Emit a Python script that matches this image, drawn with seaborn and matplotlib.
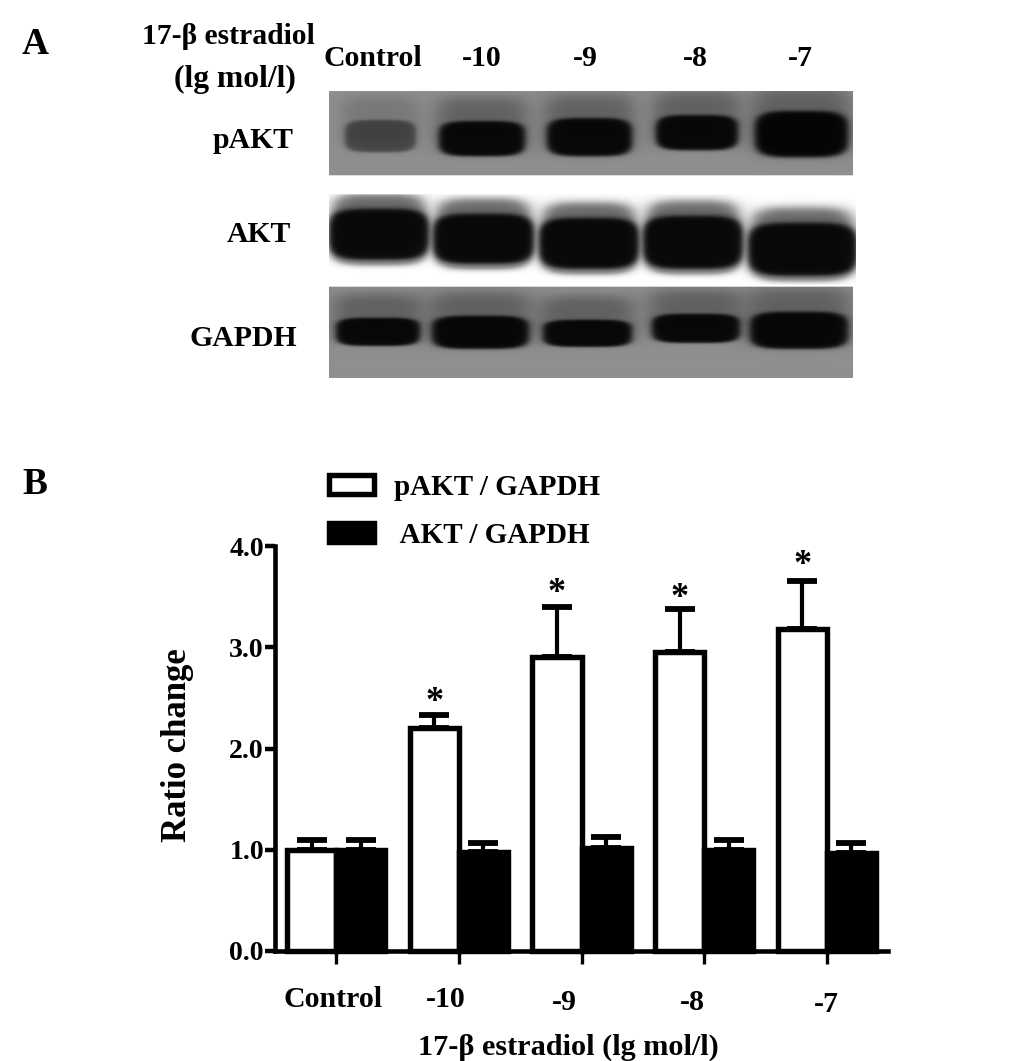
import numpy as np
import pandas as pd
import seaborn as sns
import matplotlib
matplotlib.use("Agg")
import matplotlib.pyplot as plt
from matplotlib.transforms import ScaledTranslation

# ---------- data ----------
categories = ["Control", "-10", "-9", "-8", "-7"]
series_names = ["pAKT / GAPDH", " AKT / GAPDH"]
pakt_values = [1.00, 2.20, 2.90, 2.95, 3.18]
akt_values = [1.00, 0.98, 1.02, 1.00, 0.97]
pakt_err = [0.10, 0.13, 0.50, 0.43, 0.47]
akt_err = [0.10, 0.09, 0.11, 0.10, 0.10]
star_categories = ["-10", "-9", "-8", "-7"]
star_heights = [2.45, 3.53, 3.48, 3.81]

# blot bands: left, right, top, bottom (image pixels), darkness
pakt_bands = [(345, 416, 121, 153, 0.48), (439, 525, 122, 157, 0.97), (547, 632, 119, 157, 0.97),
              (656, 738, 116, 151, 0.97), (755, 848, 112, 158, 1.00)]
akt_bands = [(330, 428, 210, 260, 0.97), (434, 533, 215, 264, 0.98), (540, 638, 219, 269, 0.98),
             (644, 742, 217, 269, 0.98), (749, 856, 224, 276, 0.98)]
gapdh_bands = [(336, 420, 318, 346, 0.97), (432, 529, 316, 349, 0.98), (543, 632, 320, 347, 0.97),
               (652, 740, 314, 343, 0.97), (750, 848, 312, 349, 0.98)]

W, H = 1033, 1061
sns.set_style("white")
plt.rcParams["font.family"] = ["Liberation Serif", "DejaVu Serif"]
plt.rcParams["font.weight"] = "bold"

fig = plt.figure(figsize=(W / 100, H / 100), dpi=100, facecolor="white")
ax = fig.add_axes([275 / W, 1 - 951 / H, (888 - 275) / W, (951 - 546) / H])

df = pd.DataFrame({
    "dose": categories * 2,
    "series": [series_names[0]] * 5 + [series_names[1]] * 5,
    "ratio": pakt_values + akt_values,
})
LW = 3.9
sns.barplot(data=df, x="dose", y="ratio", hue="series", order=categories, hue_order=series_names,
            palette=["white", "black"], edgecolor="black", linewidth=LW, saturation=1,
            errorbar=None, width=0.8, ax=ax, zorder=3, clip_on=False)

# error bars (upper only) at the bar centres
for cont, vals, errs in zip(ax.containers, [pakt_values, akt_values], [pakt_err, akt_err]):
    xs = [p.get_x() + p.get_width() / 2 for p in cont.patches]
    ax.errorbar(xs, vals, yerr=[np.zeros(5), errs], fmt="none", ecolor="black", elinewidth=3,
                capsize=10.5, capthick=4.2, zorder=2, clip_on=False)

# significance stars
pakt_centres = [p.get_x() + p.get_width() / 2 for p in ax.containers[0].patches]
for cat, h in zip(star_categories, star_heights):
    ax.text(pakt_centres[categories.index(cat)], h, "*", ha="center", va="center",
            fontsize=26, fontweight="bold", color="black")

ax.set_xlim(-0.5, 4.5)
ax.set_ylim(0, 4)
ax.set_yticks([0, 1, 2, 3, 4])
ax.set_yticklabels(["0.0", "1.0", "2.0", "3.0", "4.0"], fontsize=20, fontweight="bold", color="black")
ax.set_xticks(range(5))
ax.set_xticklabels(categories, fontsize=21.5, fontweight="bold", color="black")
ax.tick_params(axis="y", left=True, length=7, width=3.2, pad=1, color="black")
ax.tick_params(axis="x", bottom=True, length=9, width=2.4, pad=16, color="black")
# hand-placed x tick labels, as in the source figure (offsets in pixels)
label_dx = [-3, -13, -17, -12, 0]
label_dy = [0, 0, -3, -3, -5]
for lab, dx, dy in zip(ax.get_xticklabels(), label_dx, label_dy):
    lab.set_transform(lab.get_transform() + ScaledTranslation(dx / 100, dy / 100, fig.dpi_scale_trans))

for s in ["top", "right"]:
    ax.spines[s].set_visible(False)
for s in ["left", "bottom"]:
    ax.spines[s].set_linewidth(3.3)
    ax.spines[s].set_color("black")
    ax.spines[s].set_zorder(4)

ax.set_xlabel("17-β estradiol (lg mol/l)", fontsize=21.8, fontweight="bold", color="black")
ax.xaxis.set_label_coords(568 / W, 1 - 1047 / H, transform=fig.transFigure)
ax.xaxis.label.set_va("center")
ax.set_ylabel("Ratio change", fontsize=25, fontweight="bold", color="black")
ax.yaxis.set_label_coords(178 / W, 1 - 745 / H, transform=fig.transFigure)
ax.yaxis.label.set_va("center")

# legend
handles, labels = ax.get_legend_handles_labels()
for h_ in handles:
    h_.set_linewidth(LW)
leg = ax.legend(handles, labels, loc="center left", bbox_to_anchor=(329 / W, 1 - 511.5 / H),
                bbox_transform=fig.transFigure, frameon=False, fontsize=21, handlelength=1.55,
                handleheight=0.6, labelspacing=0.72, handletextpad=0.69, borderpad=0, borderaxespad=0)
for t in leg.get_texts():
    t.set_fontweight("bold")
    t.set_color("black")

# ---------- panel A: blot drawn as an image ----------
x0, x1, y0, y1 = 320, 860, 85, 385
xx, yy = np.meshgrid(np.arange(x0, x1) + 0.5, np.arange(y0, y1) + 0.5)


def band_alpha(l, r, t, b, soft=0.14):
    cx, cy, a, c = (l + r) / 2, (t + b) / 2, (r - l) / 2, (b - t) / 2
    d = ((np.abs(xx - cx) / a) ** 4 + (np.abs(yy - cy) / c) ** 4) ** 0.25
    return 1 / (1 + np.exp((d - 1) / soft * 3))


img = np.ones_like(xx)


def rect_mask(l, r, t, b):
    return (xx >= l) & (xx < r) & (yy >= t) & (yy < b)


def add_row(bands, top, bot, bg, halo):
    row = np.full_like(xx, bg)
    for l, r, t, b, dark in bands:
        smear = band_alpha(l - 2, r + 2, t - 24, b - 6, soft=0.4) * halo * dark
        row = row * (1 - smear) + 0.12 * smear
    for l, r, t, b, dark in bands:
        a = band_alpha(l, r, t, b) * dark
        row = row * (1 - a) + 0.02 * a
    m = rect_mask(329, 853, top, bot)
    img[m] = row[m]


add_row(pakt_bands, 92, 176, 0.56, 0.42)
add_row(gapdh_bands, 287, 378, 0.56, 0.42)

# AKT row has a white background with a grey halo above each band
row = np.ones_like(xx)
for l, r, t, b, dark in akt_bands:
    smear = band_alpha(l + 2, r - 2, t - 16, b - 8, soft=0.25) * 0.65
    row = row * (1 - smear) + 0.1 * smear
for l, r, t, b, dark in akt_bands:
    s2 = band_alpha(l - 1, r + 1, t - 2, b + 6, soft=0.14) * 0.65
    row = row * (1 - s2) + 0.2 * s2
    a = band_alpha(l, r, t, b, soft=0.12) * dark
    row = row * (1 - a) + 0.03 * a
m = rect_mask(329, 856, 195, 285)
img[m] = row[m]

blot = fig.add_axes([x0 / W, 1 - y1 / H, (x1 - x0) / W, (y1 - y0) / H])
blot.imshow(img, cmap="gray", vmin=0, vmax=1, aspect="auto", interpolation="bilinear")
blot.axis("off")


# ---------- panel A / figure texts ----------
def label(px, py, s, size=18):
    fig.text(px / W, 1 - py / H, s, ha="center", va="center", fontsize=size, fontweight="bold", color="black")


label(35, 45, "A", 27)
label(35, 484, "B", 27)
label(228, 36, "17-β estradiol", 21.3)
label(235, 79, "(lg mol/l)", 22.8)
for px, py, s in zip([373, 482, 585, 695, 800], [58, 58, 59, 59, 59], categories):
    label(px, py, s, 21.4)
label(253, 140, "pAKT", 21.4)
label(259, 234, "AKT", 21.4)
label(243, 338, "GAPDH", 21.4)

fig.savefig("out.png", dpi=100, facecolor="white")
